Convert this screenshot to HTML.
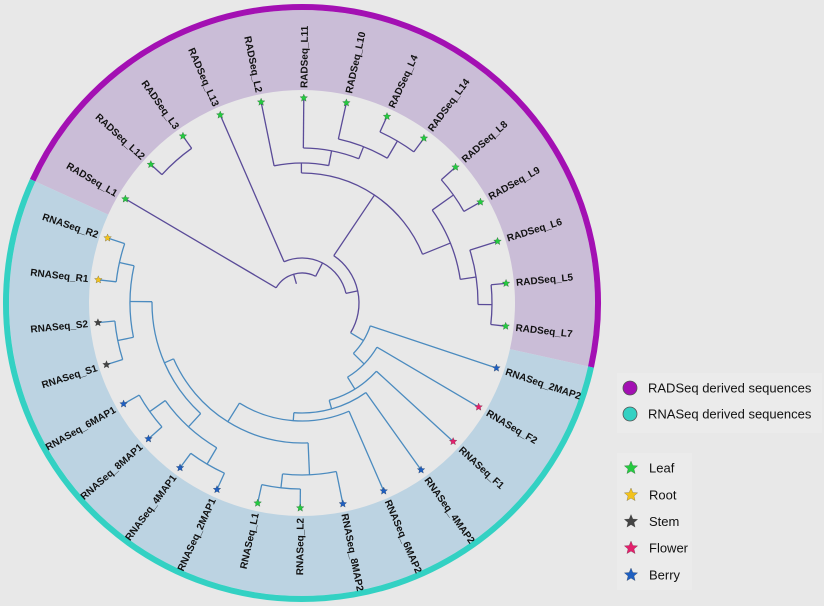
<!DOCTYPE html>
<html><head><meta charset="utf-8"><style>
html,body{margin:0;padding:0;background:#e8e8e8;}
svg{display:block}
text{font-family:"Liberation Sans",sans-serif;}
.lb{font-size:10px;font-weight:bold;fill:#111;}
.lg{font-size:13px;fill:#111;}
</style></head><body>
<svg id="s" width="824" height="606" viewBox="0 0 824 606" xmlns="http://www.w3.org/2000/svg">
<rect width="824" height="606" fill="#e8e8e8"/>
<g id="bands"></g>
<g id="tree" fill="none" stroke-width="1.3" stroke-linejoin="round"></g>
<g id="stars"></g>
<g class="lb">
<text x="87" y="306.5" text-anchor="end" transform="rotate(30.5 302 303)">RADSeq_L1</text>
<text x="87" y="306.5" text-anchor="end" transform="rotate(42.5 302 303)">RADSeq_L12</text>
<text x="87" y="306.5" text-anchor="end" transform="rotate(54.5 302 303)">RADSeq_L3</text>
<text x="87" y="306.5" text-anchor="end" transform="rotate(66.5 302 303)">RADSeq_L13</text>
<text x="87" y="306.5" text-anchor="end" transform="rotate(78.5 302 303)">RADSeq_L2</text>
<text x="517" y="306.5" transform="rotate(-89.5 302 303)">RADSeq_L11</text>
<text x="517" y="306.5" transform="rotate(-77.5 302 303)">RADSeq_L10</text>
<text x="517" y="306.5" transform="rotate(-65.5 302 303)">RADSeq_L4</text>
<text x="517" y="306.5" transform="rotate(-53.5 302 303)">RADSeq_L14</text>
<text x="517" y="306.5" transform="rotate(-41.5 302 303)">RADSeq_L8</text>
<text x="517" y="306.5" transform="rotate(-29.5 302 303)">RADSeq_L9</text>
<text x="517" y="306.5" transform="rotate(-17.5 302 303)">RADSeq_L6</text>
<text x="517" y="306.5" transform="rotate(-5.5 302 303)">RADSeq_L5</text>
<text x="517" y="306.5" transform="rotate(6.5 302 303)">RADSeq_L7</text>
<text x="517" y="306.5" transform="rotate(18.5 302 303)">RNASeq_2MAP2</text>
<text x="517" y="306.5" transform="rotate(30.5 302 303)">RNASeq_F2</text>
<text x="517" y="306.5" transform="rotate(42.5 302 303)">RNASeq_F1</text>
<text x="517" y="306.5" transform="rotate(54.5 302 303)">RNASeq_4MAP2</text>
<text x="517" y="306.5" transform="rotate(66.5 302 303)">RNASeq_6MAP2</text>
<text x="517" y="306.5" transform="rotate(78.5 302 303)">RNASeq_8MAP2</text>
<text x="87" y="306.5" text-anchor="end" transform="rotate(-89.5 302 303)">RNASeq_L2</text>
<text x="87" y="306.5" text-anchor="end" transform="rotate(-77.5 302 303)">RNASeq_L1</text>
<text x="87" y="306.5" text-anchor="end" transform="rotate(-65.5 302 303)">RNASeq_2MAP1</text>
<text x="87" y="306.5" text-anchor="end" transform="rotate(-53.5 302 303)">RNASeq_4MAP1</text>
<text x="87" y="306.5" text-anchor="end" transform="rotate(-41.5 302 303)">RNASeq_8MAP1</text>
<text x="87" y="306.5" text-anchor="end" transform="rotate(-29.5 302 303)">RNASeq_6MAP1</text>
<text x="87" y="306.5" text-anchor="end" transform="rotate(-17.5 302 303)">RNASeq_S1</text>
<text x="87" y="306.5" text-anchor="end" transform="rotate(-5.5 302 303)">RNASeq_S2</text>
<text x="87" y="306.5" text-anchor="end" transform="rotate(6.5 302 303)">RNASeq_R1</text>
<text x="87" y="306.5" text-anchor="end" transform="rotate(18.5 302 303)">RNASeq_R2</text>
</g>
<rect x="617" y="373" width="205" height="60" fill="#ebebeb"/>
<circle cx="630" cy="388" r="7" fill="#a310b3" stroke="#555" stroke-width="0.8"/>
<circle cx="630" cy="414" r="7" fill="#33d1c3" stroke="#555" stroke-width="0.8"/>
<text class="lg" x="648" y="392.5">RADSeq derived sequences</text>
<text class="lg" x="648" y="418.5">RNASeq derived sequences</text>
<rect x="617" y="453" width="75" height="137" fill="#ebebeb"/>
<g id="lstars"></g>
<text class="lg" x="649" y="472.5">Leaf</text>
<text class="lg" x="649" y="499.5">Root</text>
<text class="lg" x="649" y="526">Stem</text>
<text class="lg" x="649" y="552.5">Flower</text>
<text class="lg" x="649" y="579.5">Berry</text>
</svg>
<script>
var NS="http://www.w3.org/2000/svg",CX=302,CY=303;
function P(r,a){a*=Math.PI/180;return [CX+r*Math.cos(a),CY+r*Math.sin(a)];}
function el(t,at,p){var e=document.createElementNS(NS,t);for(var k in at)e.setAttribute(k,at[k]);p.appendChild(e);return e;}
function sector(r1,r2,a1,a2){var p1=P(r2,a1),p2=P(r2,a2),p3=P(r1,a2),p4=P(r1,a1),l=(a2-a1)>180?1:0;
return "M"+p1+" A"+r2+","+r2+" 0 "+l+" 1 "+p2+" L"+p3+" A"+r1+","+r1+" 0 "+l+" 0 "+p4+"Z";}
function arc(r,a1,a2){var p1=P(r,a1),p2=P(r,a2),l=(a2-a1)>180?1:0;return "M"+p1+" A"+r+","+r+" 0 "+l+" 1 "+p2;}
var B=document.getElementById("bands");
el("path",{d:sector(213,293,-155.5,12.5),fill:"#cabdd7"},B);
el("path",{d:sector(213,293,12.5,204.5),fill:"#bcd3e2"},B);
el("path",{d:arc(296,-155.5,12.5),stroke:"#a310b3","stroke-width":6,fill:"none"},B);
el("path",{d:arc(296,12.5,204.5),stroke:"#33d1c3","stroke-width":6,fill:"none"},B);
function A(k){return -149.5+12*k;}
var PU="#5a4b98",BL="#4b8bbf";
var LEFT={r:150,c:[{r:168,c:[{r:187,c:[22,23]},{r:187,c:[24,25]}]},{r:172,c:[{r:188,c:[26,27]},{r:187,c:[28,29]}]}]};
var X={r:140,c:[{r:172,c:[19,{r:186,c:[20,21]}]},LEFT]};
var RN={r:72,b:1,c:[14,{r:87,c:[15,{r:101,c:[16,{r:110,c:[17,{r:118,c:[18,X]}]}]}]}]};
var NA={r:140,c:[4,{r:155,c:[5,{r:168,c:[6,{r:188,c:[7,8]}]}]}]};
var NC1={r:160,c:[{r:186,c:[9,10]},{r:176,c:[11,{r:190,c:[12,13]}]}]};
var N3={r:130,c:[NA,NC1]};
var N2={r:57,c:[N3,RN]};
var N1={r:45,c:[3,N2]};
var N0={r:30,c:[0,{r:190,c:[1,2]},N1]};
function ang(n){if(typeof n==="number")return A(n);var a=ang(n.c[0]),b=ang(n.c[n.c.length-1]);n.a=(a+b)/2;return n.a;}
ang(N0);
var T=document.getElementById("tree");
function draw(n,col){if(n.b)col=BL;var as=n.c.map(function(c){return typeof c==="number"?A(c):c.a;});
el("path",{d:arc(n.r,as[0],as[as.length-1]),stroke:col},T);
n.c.forEach(function(c,i){var cc=(c.b?BL:col),cr=typeof c==="number"?205:c.r;var p1=P(n.r,as[i]),p2=P(cr,as[i]);
el("path",{d:"M"+p1+" L"+p2,stroke:cc},T);if(typeof c!=="number")draw(c,col);});}
draw(N0,PU);
el("path",{d:"M"+P(20,N0.a)+" L"+P(30,N0.a),stroke:PU},T);
function star(x,y,R,col,p){var s="";for(var i=0;i<10;i++){var r=i%2?R*0.45:R,a=(-90+36*i)*Math.PI/180;s+=(i?"L":"M")+(x+r*Math.cos(a)).toFixed(2)+","+(y+r*Math.sin(a)).toFixed(2);}
el("path",{d:s+"Z",fill:col,stroke:"rgba(0,0,0,0.35)","stroke-width":0.5},p);}
var S=document.getElementById("stars");
var G="#25c940",Y="#f2c21d",D="#444",K="#e3206c",U="#1f5fc0";
var cols=[];for(var k=0;k<14;k++)cols.push(G);
cols=cols.concat([U,K,K,U,U,U,G,G,U,U,U,U,D,D,Y,Y]);
for(var k=0;k<30;k++){var p=P(205,A(k));star(p[0],p[1],4,cols[k],S);}
var LS=document.getElementById("lstars");
[[468,G],[495,Y],[521.5,D],[548,K],[575,U]].forEach(function(v){star(631,v[0],7,v[1],LS);});
</script>
</body></html>
